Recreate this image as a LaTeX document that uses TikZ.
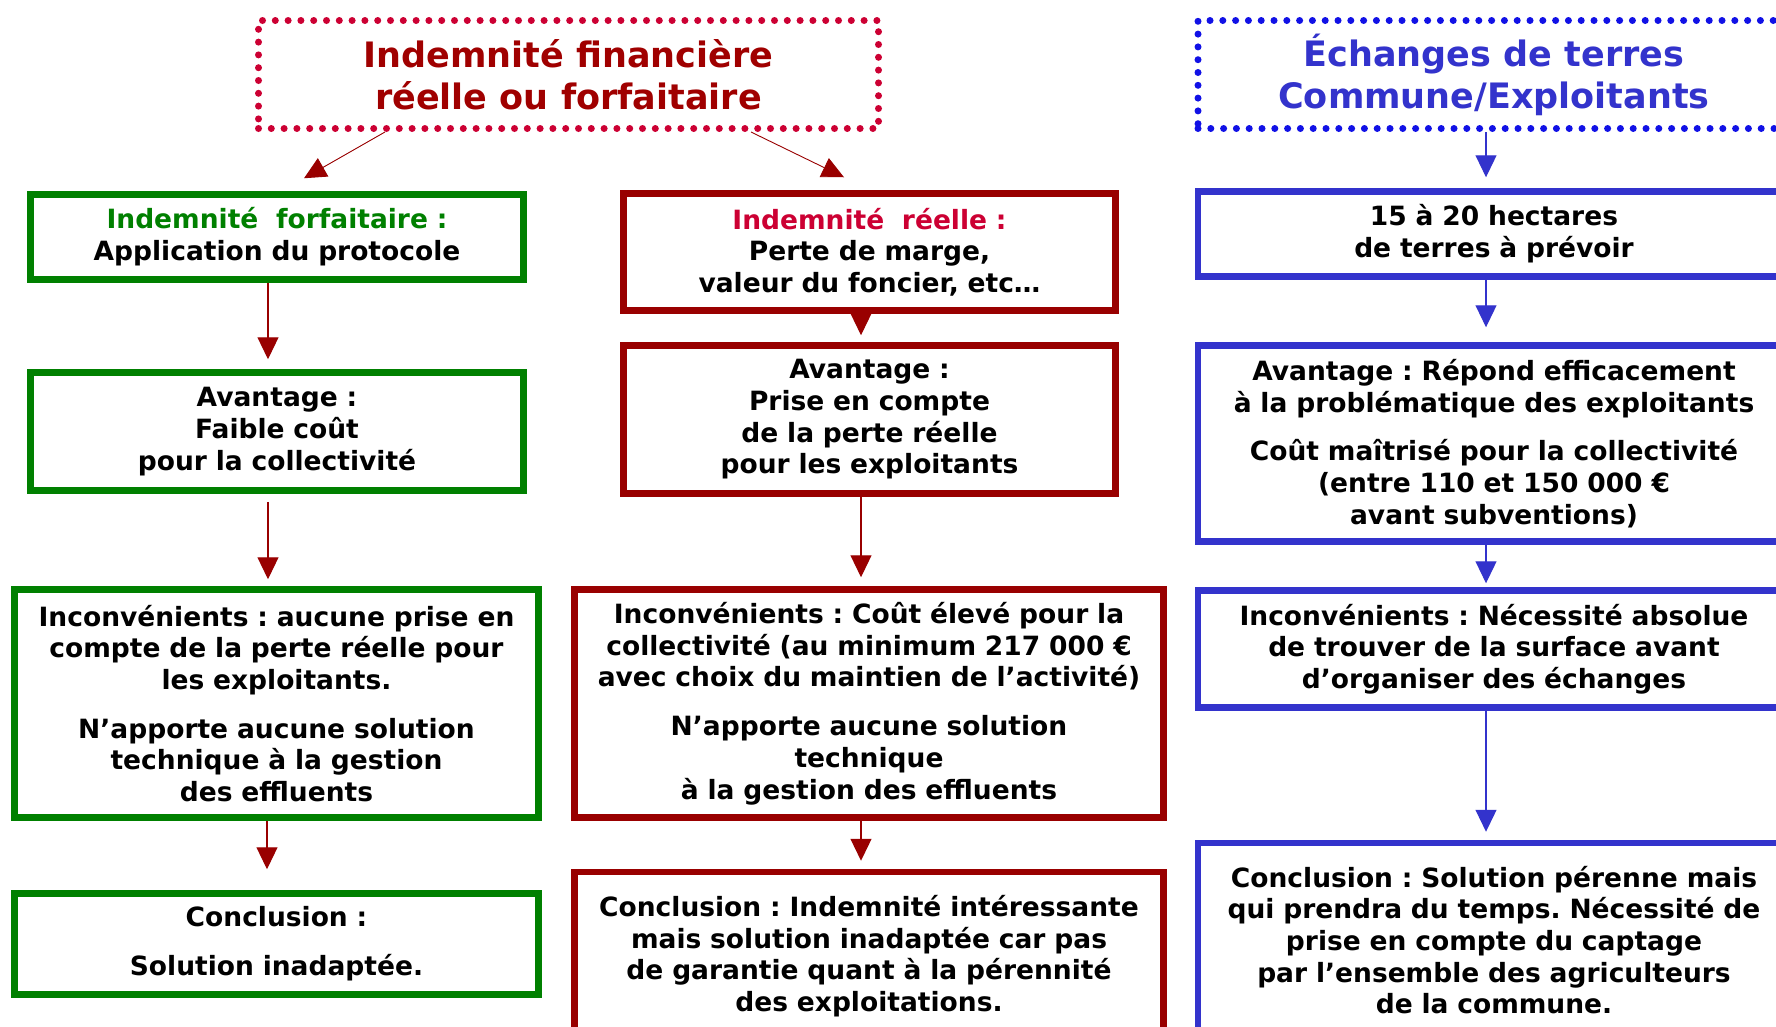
\documentclass[tikz,border=0pt]{standalone}
\usepackage{fontspec}
\setmainfont{DejaVu Sans}
\frenchspacing
\usetikzlibrary{arrows.meta}
\definecolor{gr}{RGB}{0,128,0}
\definecolor{dr}{RGB}{153,0,0}
\definecolor{bl}{RGB}{51,51,204}
\definecolor{crim}{RGB}{204,0,51}
\definecolor{dotbl}{RGB}{17,17,230}
\definecolor{titred}{RGB}{160,0,0}
\begin{document}
\begin{tikzpicture}[x=1pt,y=-1pt,
 box/.style={draw, line width=6.5pt, inner sep=0pt, align=center,
   font=\fontsize{26.5}{31.7}\selectfont\bfseries},
 gbox/.style={box, draw=gr},
 rbox/.style={box, draw=dr},
 bbox/.style={box, draw=bl},
 dotbox/.style={draw, line width=7pt, line cap=round, dash pattern=on 0pt off 12.8pt,
   inner sep=0pt, align=center, font=\fontsize{35}{42}\selectfont\bfseries},
 rarr/.style={draw=dr, line width=1.2pt, -{Triangle[width=21pt,length=22pt]}},
 barr/.style={draw=bl, line width=1.2pt, -{Triangle[width=21pt,length=22pt]}},
]
\useasboundingbox[fill=white] (0,0) rectangle (1776,1026);

% top titles
\node[dotbox, draw=crim, text=titred, minimum width=620pt, minimum height=108pt] (tr) at (568.5,74.5)
  {Indemnité financière\\réelle ou forfaitaire};
\node[dotbox, draw=dotbl, text=bl, minimum width=592pt, minimum height=108pt] (tb) at (1494,74.5)
  {Échanges de terres\\Commune/Exploitants};

% column 1
\node[gbox, minimum width=493pt, minimum height=85pt, text width=480pt] (g1) at (277,237)
  {\textcolor{gr}{Indemnité~~forfaitaire :}\\Application du protocole};
\node[gbox, minimum width=493pt, minimum height=118pt, text width=480pt] (g2) at (277,431.5)
  {Avantage :\\Faible coût\\pour la collectivité};
\node[gbox, minimum width=524pt, minimum height=228pt, text width=515pt] (g3) at (276.5,703.5)
  {Inconvénients : aucune prise en\\compte de la perte réelle pour\\les exploitants.\\[17pt]N’apporte aucune solution\\technique à la gestion\\des effluents};
\node[gbox, minimum width=524pt, minimum height=101pt, text width=515pt] (g4) at (276.5,944)
  {Conclusion :\\[17pt]Solution inadaptée.};

% column 2
\node[rbox, minimum width=492pt, minimum height=117pt, text width=480pt] (r1) at (869.5,252)
  {\textcolor{crim}{Indemnité~~réelle :}\\Perte de marge,\\valeur du foncier, etc…};
\node[rbox, minimum width=492pt, minimum height=148pt, text width=480pt] (r2) at (869.5,419.5)
  {Avantage :\\Prise en compte\\de la perte réelle\\pour les exploitants};
\node[rbox, minimum width=589pt, minimum height=228pt, text width=580pt] (r3) at (869,703.5)
  {Inconvénients : Coût élevé pour la\\collectivité (au minimum 217 000 €\\avec choix du maintien de l’activité)\\[17pt]N’apporte aucune solution\\technique\\à la gestion des effluents};
\node[rbox, minimum width=589pt, minimum height=168pt, text width=580pt] (r4) at (869,956)
  {Conclusion : Indemnité intéressante\\mais solution inadaptée car pas\\de garantie quant à la pérennité\\des exploitations.};

% column 3
\node[bbox, minimum width=592pt, minimum height=85pt, text width=580pt] (b1) at (1494,234)
  {15 à 20 hectares\\de terres à prévoir};
\node[bbox, minimum width=592pt, minimum height=196pt, text width=580pt] (b2) at (1494,443.5)
  {Avantage : Répond efficacement\\à la problématique des exploitants\\[17pt]Coût maîtrisé pour la collectivité\\(entre 110 et 150 000 €\\avant subventions)};
\node[bbox, minimum width=592pt, minimum height=117pt, text width=580pt] (b3) at (1494,649)
  {Inconvénients : Nécessité absolue\\de trouver de la surface avant\\d’organiser des échanges};
\node[bbox, minimum width=592pt, minimum height=194pt, text width=580pt] (b4) at (1494,940)
  {Conclusion : Solution pérenne mais\\qui prendra du temps. Nécessité de\\prise en compte du captage\\par l’ensemble des agriculteurs\\de la commune.};

% connectors
\draw[rarr, line width=0.9pt] ([xshift=-183.5pt]tr.south) -- ([xshift=27pt,yshift=13pt]g1.north);
\draw[rarr, line width=0.9pt] ([xshift=182.5pt]tr.south) -- ([xshift=-25.5pt,yshift=13pt]r1.north);
\draw[barr] ([xshift=-8pt]tb.south) -- ([xshift=-8pt,yshift=11pt]b1.north);

\draw[rarr] ([xshift=-9pt]g1.south) -- ([xshift=-9pt,yshift=10pt]g2.north);
\draw[rarr] ([xshift=-9pt,yshift=-8pt]g2.south) -- ([xshift=-8.5pt,yshift=7pt]g3.north);
\draw[rarr] ([xshift=-9.5pt]g3.south) -- ([xshift=-9.5pt,yshift=21pt]g4.north);

\draw[rarr] ([xshift=-8.5pt,yshift=4pt]r1.south) -- ([xshift=-8.5pt,yshift=7pt]r2.north);
\draw[rarr] ([xshift=-8.5pt]r2.south) -- ([xshift=-8pt,yshift=9pt]r3.north);
\draw[rarr] ([xshift=-8pt]r3.south) -- ([xshift=-8pt,yshift=8pt]r4.north);

\draw[barr] ([xshift=-8pt]b1.south) -- ([xshift=-8pt,yshift=15pt]b2.north);
\draw[barr] ([xshift=-8pt,yshift=4pt]b2.south) -- ([xshift=-8pt,yshift=4pt]b3.north);
\draw[barr] ([xshift=-8pt]b3.south) -- ([xshift=-8pt,yshift=8pt]b4.north);
\end{tikzpicture}
\end{document}
